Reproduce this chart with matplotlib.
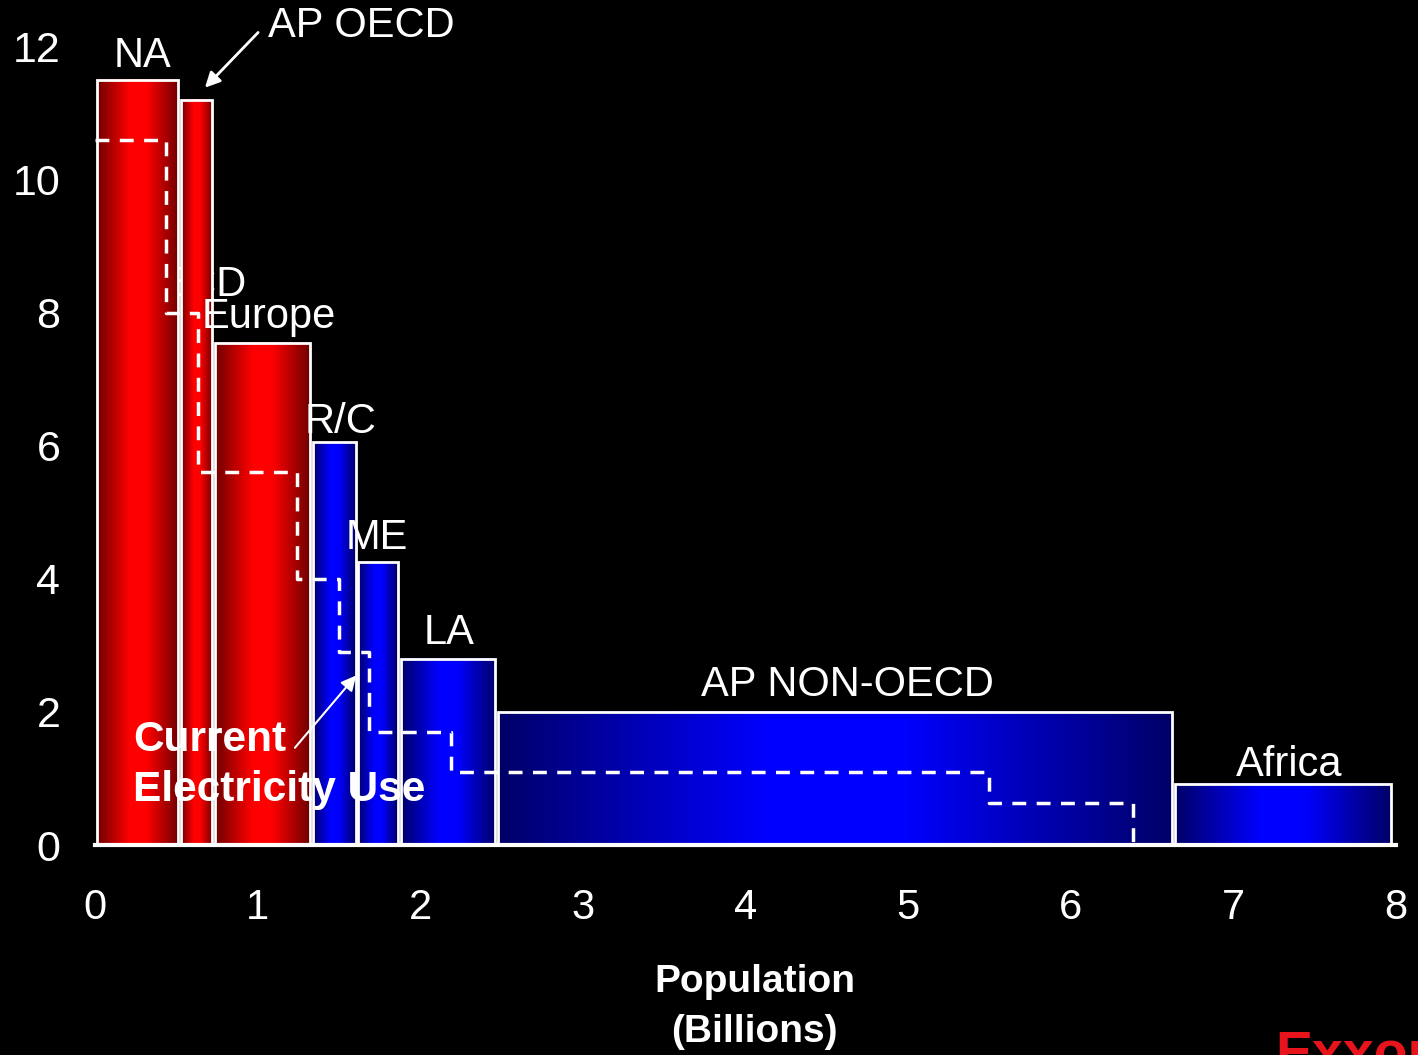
import numpy as np
import matplotlib.pyplot as plt
from matplotlib.colors import LinearSegmentedColormap
from matplotlib.patches import Rectangle

# 地域ごとの人口 (十億人) と一人当たり電力 (棒の高さ)
regions = ['NA', 'AP OECD', 'Europe', 'R/C', 'ME', 'LA', 'AP NON-OECD', 'Africa']
population = [0.52, 0.21, 0.60, 0.28, 0.26, 0.60, 4.16, 1.345]
energy = [11.5, 11.2, 7.55, 6.05, 4.25, 2.8, 2.0, 0.92]
oecd = [True, True, True, False, False, False, False, False]

# 現在の電力使用量 (破線の階段)
current_pop = [0.437, 0.196, 0.607, 0.26, 0.185, 0.505, 3.31, 0.88]
current_use = [10.6, 8.0, 5.6, 4.0, 2.9, 1.7, 1.1, 0.63]

x_ticks = [0, 1, 2, 3, 4, 5, 6, 7, 8]
y_ticks = [0, 2, 4, 6, 8, 10, 12]

reg_font = ['Liberation Sans', 'DejaVu Sans']

red_cm = LinearSegmentedColormap.from_list('r', [(0, '#700000'), (0.4, '#ff0000'), (0.6, '#ff0000'), (1, '#700000')])
blue_cm = LinearSegmentedColormap.from_list('b', [(0, '#000068'), (0.4, '#0000ff'), (0.6, '#0000ff'), (1, '#000068')])

fig = plt.figure(figsize=(14.18, 10.55), dpi=100, facecolor='black')
ax = fig.add_axes([0.067, 0.199, 0.9175, 0.757])
ax.set_facecolor('black')
ax.set_xlim(0, 8)
ax.set_ylim(0, 12)

#- グラデーション付きの棒
grad = np.linspace(0, 1, 256).reshape(1, -1)
left = 0.01
gap = 0.018
for name, w, h, o in zip(regions, population, energy, oecd):
    x0, x1 = left, left + w - gap
    ax.imshow(grad, cmap=red_cm if o else blue_cm, aspect='auto',
              extent=(x0, x1, 0, h), zorder=2, interpolation='bilinear')
    ax.add_patch(Rectangle((x0, 0), x1 - x0, h, fill=False, edgecolor='white', lw=2, zorder=3))
    left += w

#- 破線 (現在の電力使用)
edges = np.concatenate([[0], np.cumsum(current_pop)])
xs = np.repeat(edges, 2)[1:]
ys = np.concatenate([np.repeat(current_use, 2), [0]])
ax.plot(xs, ys, color='white', lw=2.5, ls=(0, (4, 3)), zorder=4)

#- ラベル
fs = 30
ax.text(0.295, 11.86, 'NA', color='white', fontsize=fs, ha='center', va='center', family=reg_font, zorder=5)
ax.text(1.064, 12.3, 'AP OECD', color='white', fontsize=fs, ha='left', va='center', family=reg_font, clip_on=False, zorder=5)
ax.text(0.929, 8.41, 'OECD', color='white', fontsize=fs, ha='right', va='center', family=reg_font, zorder=1)
ax.text(0.658, 7.93, 'Europe', color='white', fontsize=fs, ha='left', va='center', family=reg_font, zorder=5)
ax.text(1.29, 6.35, 'R/C', color='white', fontsize=fs, ha='left', va='center', family=reg_font, zorder=5)
ax.text(1.54, 4.61, 'ME', color='white', fontsize=fs, ha='left', va='center', family=reg_font, zorder=5)
ax.text(2.18, 3.18, 'LA', color='white', fontsize=fs, ha='center', va='center', family=reg_font, zorder=5)
ax.text(4.625, 2.40, 'AP NON-OECD', color='white', fontsize=fs, ha='center', va='center', family=reg_font, zorder=5)
ax.text(7.34, 1.20, 'Africa', color='white', fontsize=fs, ha='center', va='center', family=reg_font, zorder=5)
ax.text(0.234, 1.58, 'Current', color='white', fontsize=30.5, fontweight='bold', ha='left', va='center', family=reg_font, zorder=5)
ax.text(0.234, 0.83, 'Electricity Use', color='white', fontsize=30.5, fontweight='bold', ha='left', va='center', family=reg_font, zorder=5)

ax.annotate('', xy=(0.664, 11.35), xytext=(1.015, 12.24), annotation_clip=False, zorder=5,
            arrowprops=dict(arrowstyle='-|>,head_length=0.9,head_width=0.45', color='white', lw=2))
ax.annotate('', xy=(1.617, 2.58), xytext=(1.218, 1.43), zorder=5,
            arrowprops=dict(arrowstyle='-|>,head_length=0.9,head_width=0.45', color='white', lw=1.5))

#- 軸
for s in ['top', 'right', 'left']:
    ax.spines[s].set_visible(False)
ax.spines['bottom'].set_color('white')
ax.spines['bottom'].set_linewidth(3)
ax.spines['bottom'].set_zorder(6)
ax.set_xticks(x_ticks)
ax.set_yticks(y_ticks)
ax.set_xticks([8], minor=True)
ax.tick_params(axis='x', which='minor', direction='in', length=12, width=2, color='white')
ax.tick_params(axis='x', length=0, pad=31, labelsize=30, labelcolor='white')
ax.tick_params(axis='y', length=0, pad=25, labelsize=31, labelcolor='white')
for lab in ax.get_xticklabels() + ax.get_yticklabels():
    lab.set_family(reg_font)

fig.text(0.532, 0.069, 'Population', color='white', fontsize=28, fontweight='bold', ha='center', va='center', family=reg_font)
fig.text(0.532, 0.022, '(Billions)', color='white', fontsize=28, fontweight='bold', ha='center', va='center', family=reg_font)
fig.text(0.899, 0.024, 'ExxonMobil', color='#e8141c', fontsize=40, fontweight='bold', ha='left', va='top', family=reg_font)

plt.savefig('out.png', dpi=100, facecolor='black')
